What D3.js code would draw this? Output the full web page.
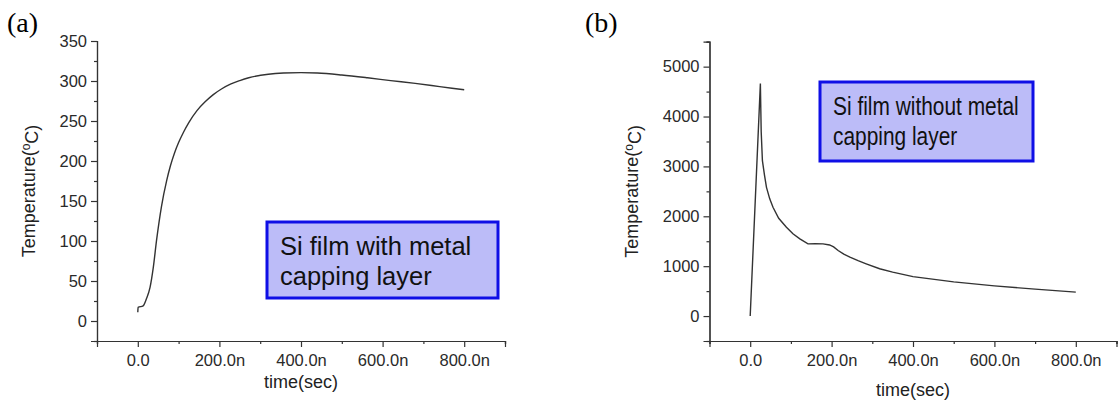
<!DOCTYPE html>
<html>
<head>
<meta charset="utf-8">
<script src="https://cdn.jsdelivr.net/npm/d3@7"></script>
<style>
  html, body { margin: 0; padding: 0; background: #fff; }
  svg { display: block; }
  .tick text { font-family: "Liberation Sans", Arial, sans-serif; }
</style>
</head>
<body>
<svg id="chart" width="1118" height="403"></svg>
<script>
// Time axis (ns) and temperature values for the two simulations
const timeTicks = [0, 200, 400, 600, 800];
const timeMinor = [-100, 100, 300, 500, 700, 900];

// (a) Si film with metal capping layer
const timeA = [0, 0.7, 13, 21, 30, 38, 46, 58, 71, 80, 90, 100, 112, 125, 145, 165, 185, 205, 227, 250, 272, 320, 357, 400, 440, 500, 563, 620, 680, 740, 800];
const tempA = [11, 17, 19, 27.6, 42, 67, 101, 143, 176, 194, 210, 223, 236, 248, 263, 274, 283, 290, 296, 300.5, 304, 308.5, 310, 310.5, 310, 307.5, 304, 300.5, 297, 293, 289];
const tempTicksA = [0, 50, 100, 150, 200, 250, 300, 350];
const tempMinorA = [-25, 25, 75, 125, 175, 225, 275, 325];

// (b) Si film without metal capping layer
const timeB = [0, 25, 27, 30, 35, 40, 48, 56, 70, 89, 105, 122, 142, 160, 179, 195, 205, 216, 230, 245, 265, 285, 318, 350, 400, 500, 600, 700, 800];
const tempB = [0, 4660, 3700, 3115, 2830, 2580, 2350, 2180, 1960, 1780, 1650, 1548, 1448, 1450, 1448, 1425, 1385, 1314, 1240, 1180, 1110, 1048, 948, 880, 790, 685, 605, 540, 480];
const tempTicksB = [0, 1000, 2000, 3000, 4000, 5000];
const tempMinorB = [-500, 500, 1500, 2500, 3500, 4500, 5500];

const svg = d3.select("#chart");
const sans = '"Liberation Sans", Arial, sans-serif';

function panel(cfg) {
  const x = d3.scaleLinear().domain([-100, 900]).range(cfg.xr);
  const y = d3.scaleLinear().domain(cfg.yd).range(cfg.yr);
  const g = svg.append("g");

  // minor ticks
  g.append("g").attr("transform", `translate(0,${cfg.yr[0]})`)
    .call(d3.axisBottom(x).tickValues(timeMinor).tickSize(3).tickFormat(""));
  g.append("g").attr("transform", `translate(${cfg.xr[0]},0)`)
    .call(d3.axisLeft(y).tickValues(cfg.yMinor).tickSize(3).tickFormat(""));

  // major ticks with labels
  g.append("g").attr("transform", `translate(0,${cfg.yr[0]})`)
    .call(d3.axisBottom(x).tickValues(timeTicks).tickSize(6).tickPadding(7)
      .tickFormat(d => d === 0 ? "0.0" : d3.format(".1f")(d) + "n"));
  g.append("g").attr("transform", `translate(${cfg.xr[0]},0)`)
    .call(d3.axisLeft(y).tickValues(cfg.yTicks).tickSize(6).tickPadding(4)
      .tickFormat(d3.format("d")));

  g.selectAll(".domain").attr("stroke", "#333").attr("stroke-width", 1.2);
  g.selectAll(".tick line").attr("stroke", "#333").attr("stroke-width", 1.2);
  g.selectAll(".tick text").attr("fill", "#2a2a2a").style("font-size", "16.5px");

  // temperature trace
  const line = d3.line().x(d => x(d[0])).y(d => y(d[1]))
    .curve(cfg.curve ? d3.curveMonotoneX : d3.curveLinear);
  g.append("path")
    .datum(cfg.t.map((t, i) => [t, cfg.v[i]]))
    .attr("fill", "none")
    .attr("stroke", "#333")
    .attr("stroke-width", 1.4)
    .attr("d", line);

  // axis titles
  g.append("text")
    .attr("x", (cfg.xr[0] + cfg.xr[1]) / 2).attr("y", cfg.xTitleY)
    .attr("text-anchor", "middle")
    .style("font-family", sans).style("font-size", "18px").attr("fill", "#222")
    .text("time(sec)");
  const yt = g.append("text")
    .attr("transform", `translate(${cfg.yTitleX},${(cfg.yr[0] + cfg.yr[1]) / 2}) rotate(-90)`)
    .attr("text-anchor", "middle")
    .style("font-family", sans).style("font-size", "18px").attr("fill", "#222");
  yt.append("tspan").text("Temperature(");
  yt.append("tspan").attr("dy", "-0.45em").style("font-size", "12px").text("o");
  yt.append("tspan").attr("dy", "0.45em").text("C)");

  // panel letter
  g.append("text")
    .attr("x", cfg.letterX).attr("y", 32)
    .style("font-family", '"Liberation Serif", "Times New Roman", serif')
    .style("font-size", "28px").attr("fill", "#000")
    .text(cfg.letter);

  // annotation box
  const b = cfg.box;
  g.append("rect")
    .attr("x", b.x).attr("y", b.y).attr("width", b.w).attr("height", b.h)
    .attr("fill", "#bcbcf8").attr("stroke", "#0f0fe6").attr("stroke-width", 3);
  b.lines.forEach((s, i) => {
    g.append("text")
      .attr("transform", `translate(${b.x + 13},${b.y + 33 + i * 30}) scale(${b.sx},1)`)
      .style("font-family", sans).style("font-size", "25.5px").attr("fill", "#111")
      .text(s);
  });
}

panel({
  xr: [97, 505], yr: [341, 41], yd: [-25, 350],
  yTicks: tempTicksA, yMinor: tempMinorA,
  t: timeA, v: tempA, curve: true,
  xTitleY: 388, yTitleX: 35, letter: "(a)", letterX: 7,
  box: { x: 267, y: 222, w: 231, h: 76, sx: 1, lines: ["Si film with metal", "capping layer"] }
});

panel({
  xr: [709.5, 1116.5], yr: [341, 41.7], yd: [-500, 5500],
  yTicks: tempTicksB, yMinor: tempMinorB,
  t: timeB, v: tempB, curve: false,
  xTitleY: 396, yTitleX: 638, letter: "(b)", letterX: 585,
  box: { x: 820, y: 82, w: 213, h: 79, sx: 0.82, lines: ["Si film without metal", "capping layer"] }
});
</script>
</body>
</html>
